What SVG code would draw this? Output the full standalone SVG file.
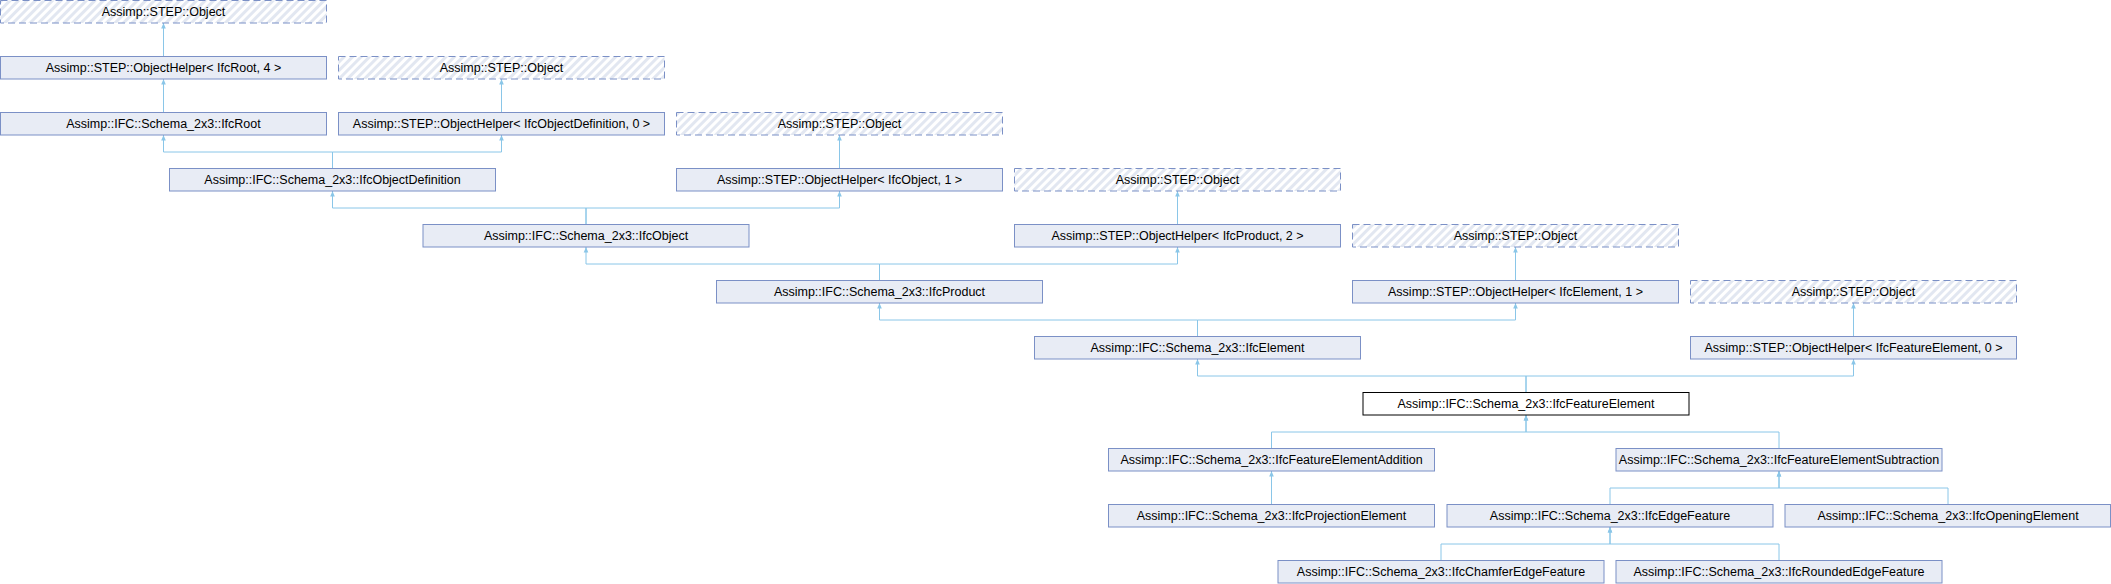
<svg xmlns="http://www.w3.org/2000/svg" width="2111" height="584" viewBox="0 0 2111 584">
<style>
.box{fill:#e8ecf5;stroke:#7b90c6;stroke-width:1}
.ext{fill:url(#hatch);stroke:#7b90c6;stroke-width:1;stroke-dasharray:7,4}
.cur{fill:#ffffff;stroke:#000000;stroke-width:1}
text{font-family:"Liberation Sans",Arial,sans-serif;font-size:12.5px;fill:#000000;text-anchor:middle}
.edge{fill:none;stroke:#8ac6e8;stroke-width:1;marker-end:url(#arr)}
</style>
<defs>
<pattern id="hatch" patternUnits="userSpaceOnUse" width="6" height="6" patternTransform="rotate(45)">
<rect width="6" height="6" fill="#ffffff"/>
<rect x="0" y="0" width="3" height="6" fill="#e2e7f1"/>
</pattern>
<marker id="arr" viewBox="0 0 10 10" refX="10" refY="5" markerWidth="5.5" markerHeight="5.5" markerUnits="userSpaceOnUse" orient="auto">
<path d="M0,0.8 L10,5 L0,9.2 z" fill="#8ac6e8"/>
</marker>
</defs>
<g id="connectors">
<path class="edge" d="M163.5,56 V23"/>
<path class="edge" d="M163.5,112 V79"/>
<path class="edge" d="M501.5,112 V79"/>
<path class="edge" d="M332.5,168 V152 H163.5 V135"/>
<path class="edge" d="M332.5,168 V152 H501.5 V135"/>
<path class="edge" d="M839.5,168 V135"/>
<path class="edge" d="M586,224 V208 H332.5 V191"/>
<path class="edge" d="M586,224 V208 H839.5 V191"/>
<path class="edge" d="M1177.5,224 V191"/>
<path class="edge" d="M879.5,280 V264 H586 V247"/>
<path class="edge" d="M879.5,280 V264 H1177.5 V247"/>
<path class="edge" d="M1515.5,280 V247"/>
<path class="edge" d="M1197.5,336 V320 H879.5 V303"/>
<path class="edge" d="M1197.5,336 V320 H1515.5 V303"/>
<path class="edge" d="M1853.5,336 V303"/>
<path class="edge" d="M1526,392 V376 H1197.5 V359"/>
<path class="edge" d="M1526,392 V376 H1853.5 V359"/>
<path class="edge" d="M1271.5,448 V432 H1526 V415"/>
<path class="edge" d="M1779,448 V432 H1526 V415"/>
<path class="edge" d="M1271.5,504 V471"/>
<path class="edge" d="M1610,504 V488 H1779 V471"/>
<path class="edge" d="M1948,504 V488 H1779 V471"/>
<path class="edge" d="M1441,560 V544 H1610 V527"/>
<path class="edge" d="M1779,560 V544 H1610 V527"/>
</g>
<g id="n0"><rect class="ext" x="0.5" y="0.5" width="326" height="22.5"/><text x="163.5" y="16">Assimp::STEP::Object</text></g>
<g id="n1"><rect class="box" x="0.5" y="56.5" width="326" height="22.5"/><text x="163.5" y="72">Assimp::STEP::ObjectHelper&lt; IfcRoot, 4 &gt;</text></g>
<g id="n2"><rect class="ext" x="338.5" y="56.5" width="326" height="22.5"/><text x="501.5" y="72">Assimp::STEP::Object</text></g>
<g id="n3"><rect class="box" x="0.5" y="112.5" width="326" height="22.5"/><text x="163.5" y="128">Assimp::IFC::Schema_2x3::IfcRoot</text></g>
<g id="n4"><rect class="box" x="338.5" y="112.5" width="326" height="22.5"/><text x="501.5" y="128">Assimp::STEP::ObjectHelper&lt; IfcObjectDefinition, 0 &gt;</text></g>
<g id="n5"><rect class="ext" x="676.5" y="112.5" width="326" height="22.5"/><text x="839.5" y="128">Assimp::STEP::Object</text></g>
<g id="n6"><rect class="box" x="169.5" y="168.5" width="326" height="22.5"/><text x="332.5" y="184">Assimp::IFC::Schema_2x3::IfcObjectDefinition</text></g>
<g id="n7"><rect class="box" x="676.5" y="168.5" width="326" height="22.5"/><text x="839.5" y="184">Assimp::STEP::ObjectHelper&lt; IfcObject, 1 &gt;</text></g>
<g id="n8"><rect class="ext" x="1014.5" y="168.5" width="326" height="22.5"/><text x="1177.5" y="184">Assimp::STEP::Object</text></g>
<g id="n9"><rect class="box" x="423" y="224.5" width="326" height="22.5"/><text x="586" y="240">Assimp::IFC::Schema_2x3::IfcObject</text></g>
<g id="n10"><rect class="box" x="1014.5" y="224.5" width="326" height="22.5"/><text x="1177.5" y="240">Assimp::STEP::ObjectHelper&lt; IfcProduct, 2 &gt;</text></g>
<g id="n11"><rect class="ext" x="1352.5" y="224.5" width="326" height="22.5"/><text x="1515.5" y="240">Assimp::STEP::Object</text></g>
<g id="n12"><rect class="box" x="716.5" y="280.5" width="326" height="22.5"/><text x="879.5" y="296">Assimp::IFC::Schema_2x3::IfcProduct</text></g>
<g id="n13"><rect class="box" x="1352.5" y="280.5" width="326" height="22.5"/><text x="1515.5" y="296">Assimp::STEP::ObjectHelper&lt; IfcElement, 1 &gt;</text></g>
<g id="n14"><rect class="ext" x="1690.5" y="280.5" width="326" height="22.5"/><text x="1853.5" y="296">Assimp::STEP::Object</text></g>
<g id="n15"><rect class="box" x="1034.5" y="336.5" width="326" height="22.5"/><text x="1197.5" y="352">Assimp::IFC::Schema_2x3::IfcElement</text></g>
<g id="n16"><rect class="box" x="1690.5" y="336.5" width="326" height="22.5"/><text x="1853.5" y="352">Assimp::STEP::ObjectHelper&lt; IfcFeatureElement, 0 &gt;</text></g>
<g id="n17"><rect class="cur" x="1363" y="392.5" width="326" height="22.5"/><text x="1526" y="408">Assimp::IFC::Schema_2x3::IfcFeatureElement</text></g>
<g id="n18"><rect class="box" x="1108.5" y="448.5" width="326" height="22.5"/><text x="1271.5" y="464">Assimp::IFC::Schema_2x3::IfcFeatureElementAddition</text></g>
<g id="n19"><rect class="box" x="1616" y="448.5" width="326" height="22.5"/><text x="1779" y="464">Assimp::IFC::Schema_2x3::IfcFeatureElementSubtraction</text></g>
<g id="n20"><rect class="box" x="1108.5" y="504.5" width="326" height="22.5"/><text x="1271.5" y="520">Assimp::IFC::Schema_2x3::IfcProjectionElement</text></g>
<g id="n21"><rect class="box" x="1447" y="504.5" width="326" height="22.5"/><text x="1610" y="520">Assimp::IFC::Schema_2x3::IfcEdgeFeature</text></g>
<g id="n22"><rect class="box" x="1785" y="504.5" width="325.5" height="22.5"/><text x="1948" y="520">Assimp::IFC::Schema_2x3::IfcOpeningElement</text></g>
<g id="n23"><rect class="box" x="1278" y="560.5" width="326" height="22.5"/><text x="1441" y="576">Assimp::IFC::Schema_2x3::IfcChamferEdgeFeature</text></g>
<g id="n24"><rect class="box" x="1616" y="560.5" width="326" height="22.5"/><text x="1779" y="576">Assimp::IFC::Schema_2x3::IfcRoundedEdgeFeature</text></g>
</svg>
